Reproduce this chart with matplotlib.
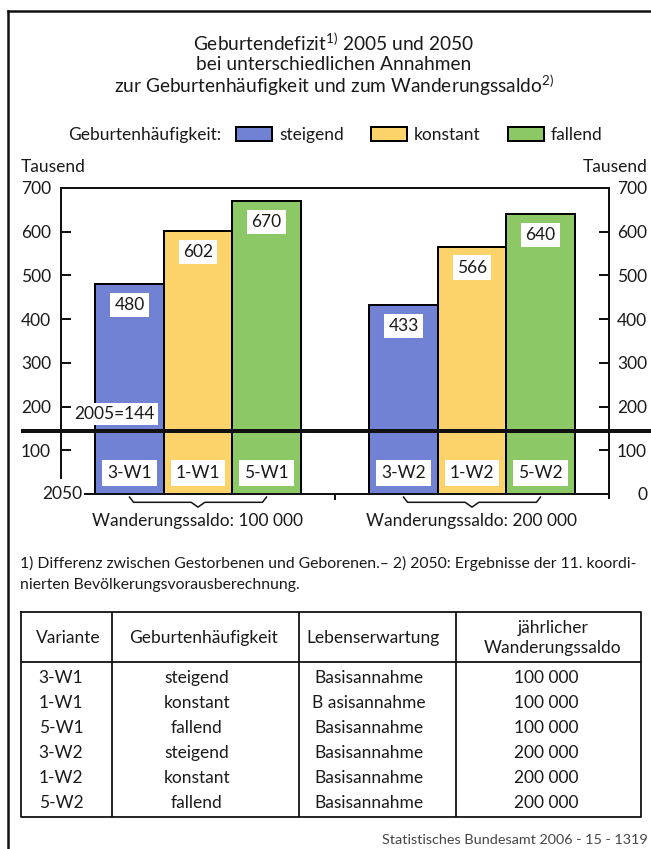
import matplotlib
matplotlib.use("Agg")
import matplotlib.pyplot as plt
from matplotlib.patches import Patch
from matplotlib.lines import Line2D
from matplotlib.transforms import blended_transform_factory

### Data
scenarios = ["steigend", "konstant", "fallend"]
colours = ["#7182d5", "#fcd36b", "#8dc867"]
variants_w1 = ["3-W1", "1-W1", "5-W1"]
variants_w2 = ["3-W2", "1-W2", "5-W2"]
deficit_w1 = [480, 602, 670]
deficit_w2 = [433, 566, 640]
deficit_2005 = 144
saldo_labels = ["Wanderungssaldo: 100 000", "Wanderungssaldo: 200 000"]
y_ticks = [0, 100, 200, 300, 400, 500, 600, 700]

table_header = ["Variante", "Geburtenhäufigkeit", "Lebenserwartung", "jährlicher\nWanderungssaldo"]
table_variante = ["3-W1", "1-W1", "5-W1", "3-W2", "1-W2", "5-W2"]
table_geburten = ["steigend", "konstant", "fallend", "steigend", "konstant", "fallend"]
table_leben = ["Basisannahme", "B asisannahme", "Basisannahme", "Basisannahme", "Basisannahme", "Basisannahme"]
table_saldo = ["100 000", "100 000", "100 000", "200 000", "200 000", "200 000"]

### matplotlib settings
FS = 12.5
matplotlib.rc("font", family=["Lato", "DejaVu Sans"], size=FS)
matplotlib.rc("mathtext", fontset="custom", rm="Lato", it="Lato")
TXT = "#1a1a1a"
LINE = "#111111"

W, H = 651, 849
def fx(x):
    return x / W
def fy(y):
    return 1 - y / H
def pt(px):
    return px * 72 / 100

fig = plt.figure(figsize=(W / 100, H / 100), dpi=100)

### outer frame
fig.add_artist(Line2D([fx(8), fx(8)], [fy(11), 0], color=LINE, lw=pt(2.5)))
fig.add_artist(Line2D([fx(8), 1], [fy(11), fy(11)], color=LINE, lw=pt(2.5)))

### title
TFS = 13.8
fig.text(fx(334), fy(43), r"Geburtendefizit$^{\mathrm{1)}}$ 2005 und 2050", ha="center", va="center", fontsize=TFS, color=TXT)
fig.text(fx(334), fy(64), "bei unterschiedlichen Annahmen", ha="center", va="center", fontsize=TFS, color=TXT)
fig.text(fx(334), fy(85), r"zur Geburtenhäufigkeit und zum Wanderungssaldo$^{\mathrm{2)}}$", ha="center", va="center", fontsize=TFS, color=TXT)

### legend
fig.text(fx(68), fy(135), "Geburtenhäufigkeit:", ha="left", va="center", color=TXT)
handles = [Patch(facecolor=c, edgecolor="black", lw=pt(2)) for c in colours]
fig.legend(handles, scenarios, loc="center left", bbox_to_anchor=(fx(220), fy(135)), ncol=3,
           frameon=False, handlelength=2.1, handleheight=0.85, handletextpad=0.4, columnspacing=1.55,
           labelcolor=TXT)

fig.text(fx(21), fy(167), "Tausend", ha="left", va="center", color=TXT)
fig.text(fx(648), fy(167), "Tausend", ha="right", va="center", color=TXT)

### chart axes
ax = fig.add_axes([fx(61), fy(494), (609 - 61) / W, (494 - 188) / H])
group_centres = [2, 6]
offsets = [-1, 0, 1]
groups = [(deficit_w1, variants_w1), (deficit_w2, variants_w2)]
for gc, (vals, names) in zip(group_centres, groups):
    xs = [gc + o for o in offsets]
    ax.bar(xs, vals, width=1, color=colours, edgecolor="black", lw=pt(2), zorder=2)
    for x, v, n in zip(xs, vals, names):
        ax.annotate(str(v), (x, v), xytext=(0, -pt(21)), textcoords="offset points",
                    ha="center", va="center", color=TXT, zorder=4,
                    bbox=dict(boxstyle="square,pad=0.24", fc="white", ec="none"))
        ax.annotate(n, (x, 0), xytext=(0, pt(21)), textcoords="offset points",
                    ha="center", va="center", color=TXT, zorder=4,
                    bbox=dict(boxstyle="square,pad=0.3", fc="white", ec="none"))

ax.set_xlim(0, 8)
ax.set_ylim(0, 700)

# 2005 line across the whole sheet
trans = blended_transform_factory(fig.transFigure, ax.transData)
ax.plot([fx(21), 1], [deficit_2005, deficit_2005], color=LINE, lw=pt(4), transform=trans,
        clip_on=False, zorder=5, solid_capstyle="butt")
ax.annotate("2005=" + str(deficit_2005), (0.2, deficit_2005), xytext=(0, pt(17)), textcoords="offset points",
            ha="left", va="center", color=TXT, zorder=4,
            bbox=dict(boxstyle="square,pad=0.18", fc="white", ec="none"))

# spines and ticks
for s in ax.spines.values():
    s.set_linewidth(pt(2))
    s.set_color(LINE)
ax.spines["left"].set_bounds(36, 700)
ax.spines["bottom"].set_bounds(0.35, 8)
ax.spines["right"].set_bounds(-10, 700)

ax.set_yticks(y_ticks)
ax.set_yticklabels([""] + [str(t) for t in y_ticks[1:]])
ax.tick_params(axis="y", direction="in", length=pt(9.5), width=pt(2), pad=pt(10), colors=LINE,
               labelcolor=TXT)
lt = ax.yaxis.get_major_ticks()
lt[0].tick1line.set_visible(False)
lt[-1].tick1line.set_visible(False)

# right scale
ax2 = ax.twinx()
ax2.set_ylim(0, 700)
for s in ax2.spines.values():
    s.set_visible(False)
ax2.set_yticks(y_ticks)
ax2.set_yticklabels([str(t) for t in y_ticks])
ax2.tick_params(axis="y", direction="in", length=pt(10), width=pt(2), pad=pt(38), colors=LINE,
                labelcolor=TXT)
for lab in ax2.get_yticklabels():
    lab.set_horizontalalignment("right")
rt = ax2.yaxis.get_major_ticks()
rt[0].tick2line.set_visible(False)
rt[-1].tick2line.set_visible(False)

gap = (group_centres[0] + group_centres[1]) / 2
ax.set_xticks([gap])
ax.set_xticklabels([""])
ax.tick_params(axis="x", direction="out", length=pt(6), width=pt(2), colors=LINE)

ax.annotate("2050", (0, 0), xytext=(pt(21), 0), textcoords="offset points", ha="right", va="center",
            color=TXT, zorder=6, annotation_clip=False,
            bbox=dict(boxstyle="square,pad=0.05", fc="white", ec="none"))

# braces and group labels
for gc, lab in zip(group_centres, saldo_labels):
    a, b = gc - 1, gc + 1
    bx = [a, a + 0.06, gc - 0.1, gc, gc + 0.1, b - 0.06, b]
    by = [-7, -19, -19, -30, -19, -19, -7]
    ax.plot(bx, by, color=LINE, lw=pt(1.5), clip_on=False)
    ax.annotate(lab, (gc, 0), xytext=(0, -pt(27)), textcoords="offset points",
                ha="center", va="center", color=TXT)

### footnote
NFS = 11.3
fig.text(fx(20), fy(563), "1) Differenz zwischen Gestorbenen und Geborenen.– 2) 2050: Ergebnisse der 11. koordi-",
         ha="left", va="center", fontsize=NFS, color=TXT)
fig.text(fx(20), fy(585), "nierten Bevölkerungsvorausberechnung.", ha="left", va="center", fontsize=NFS, color=TXT)

### table
tax = fig.add_axes([fx(21), fy(817), (641 - 21) / W, (817 - 612) / H])
tax.set_xlim(0, 620)
tax.set_ylim(205, 0)
tax.axis("off")
lw = pt(1.8)
tax.plot([0, 620, 620, 0, 0], [0, 0, 205, 205, 0], color=LINE, lw=lw, clip_on=False)
tax.plot([0, 620], [50, 50], color=LINE, lw=lw)
for cx in [91, 278, 435]:
    tax.plot([cx, cx], [0, 205], color=LINE, lw=lw)
head_x = [47, 182, 352, 532]
for x, h in zip(head_x, table_header):
    tax.text(x, 26, h, ha="center", va="center", color=TXT, linespacing=1.3)
row_x = [40, 176, 348, 525]
for i, row in enumerate(zip(table_variante, table_geburten, table_leben, table_saldo)):
    y = 66 + 25 * i
    for x, cell in zip(row_x, row):
        tax.text(x, y, cell, ha="center", va="center", color=TXT)

fig.text(fx(648), fy(840), "Statistisches Bundesamt 2006 - 15 - 1319", ha="right", va="center",
         fontsize=10.4, color="#444444")

fig.savefig("out.png", dpi=100)
